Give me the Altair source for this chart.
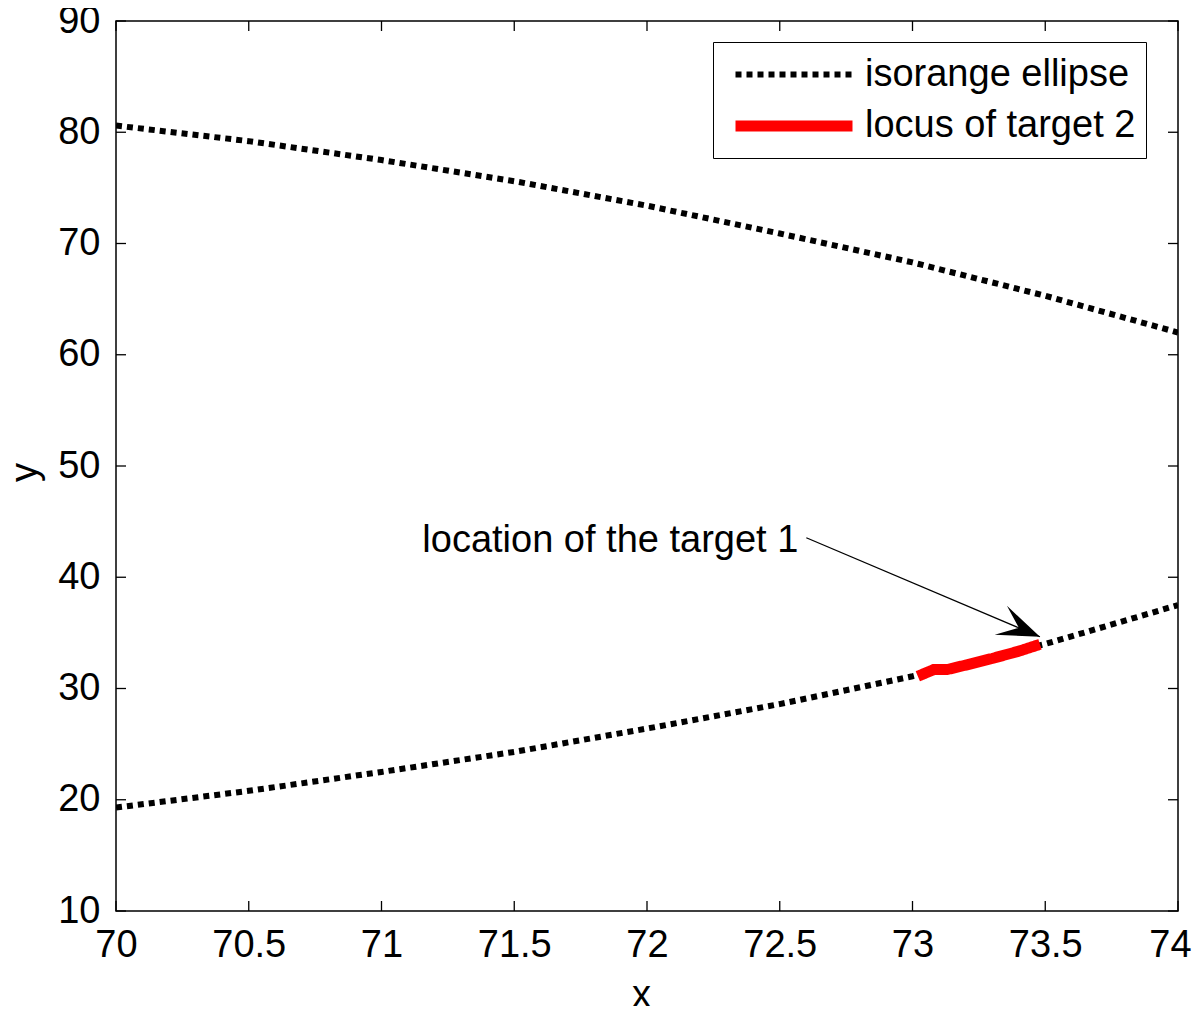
import math
import altair as alt
import pandas as pd

# ---------------- data ----------------
x_ticks = [70, 70.5, 71, 71.5, 72, 72.5, 73, 73.5, 74]
y_ticks = [10, 20, 30, 40, 50, 60, 70, 80, 90]

ellipse_x = [70, 70.5, 71, 71.5, 72, 72.5, 73, 73.5, 74]
upper_y = [80.6, 79.2, 77.5, 75.6, 73.4, 70.9, 68.3, 65.3, 62.0]
lower_y = [19.3, 20.8, 22.5, 24.3, 26.4, 28.6, 31.1, 34.0, 37.5]

locus_x = [73.02, 73.08, 73.13, 73.2, 73.3, 73.4, 73.48]
locus_y = [31.1, 31.7, 31.7, 32.1, 32.7, 33.35, 33.97]

series_names = ["isorange ellipse", "locus of target 2"]
series_colors = ["#000000", "#ff0000"]

arrow_x = [72.60, 73.48]
arrow_y = [43.55, 34.65]
label_text = "location of the target 1"
label_x = 72.57
label_y = 43.3

x_domain = [70, 74]
y_domain = [10, 90]

# ---------------- layout / style ----------------
W, H = 1062, 890
FONT = "Liberation Sans"
FS = 38
TICK = 10

rows = []
for part, ys in (("upper", upper_y), ("lower", lower_y)):
    for i, (xv, yv) in enumerate(zip(ellipse_x, ys)):
        rows.append({"x": xv, "y": yv, "series": series_names[0], "part": part, "i": i})
for i, (xv, yv) in enumerate(zip(locus_x, locus_y)):
    rows.append({"x": xv, "y": yv, "series": series_names[1], "part": "locus", "i": i})
lines_df = pd.DataFrame(rows)

xs = alt.Scale(domain=x_domain, nice=False, zero=False)
ys_ = alt.Scale(domain=y_domain, nice=False, zero=False)

last_x = x_ticks[-1]
x_axis = alt.Axis(
    values=x_ticks, labelExpr="'' + datum.value", title="x",
    labelPadding=15, titlePadding=12, titleX=525,
    labelFlush=False, labelOverlap=False,
    labelOffset={"condition": {"test": f"datum.value == {last_x}", "value": -8}, "value": 0},
)
y_axis = alt.Axis(values=y_ticks, labelExpr="'' + datum.value", title="y", labelPadding=16,
                  titlePadding=13, titleY=451, labelFlush=False, labelOverlap=False)


def X(field="x"):
    return alt.X(f"{field}:Q", scale=xs, axis=x_axis, title="x")


def Y(field="y"):
    return alt.Y(f"{field}:Q", scale=ys_, axis=y_axis, title="y")


# legend: a long stroke symbol drawn by a custom path, so that the row height stays small
SYM = 39  # nominal symbol box (px)
legend = alt.Legend(
    title=None, orient="none", legendX=597, legendY=21,
    strokeColor="black", fillColor="white", padding=10,
    symbolType="M-3,0L3,0", symbolSize=SYM * SYM, symbolOffset=46,
    labelFontSize=FS, labelFont=FONT, labelColor="black", labelOffset=46,
    labelExpr="datum.label + '    '",
    rowPadding=7, labelLimit=400,
)

lines = alt.Chart(lines_df).mark_line(strokeCap="butt", clip=True).encode(
    x=X(), y=Y(),
    detail="part:N",
    order="i:Q",
    color=alt.Color("series:N", scale=alt.Scale(domain=series_names, range=series_colors), legend=legend),
    strokeDash=alt.StrokeDash("series:N", scale=alt.Scale(domain=series_names, range=[[6, 5], [1, 0]]), legend=legend),
    strokeWidth=alt.StrokeWidth("series:N", scale=alt.Scale(type="point", padding=0, domain=series_names, range=[6, 11]), legend=legend),
)

# inward ticks on all four sides (MATLAB box style)
xt = pd.DataFrame({"x": x_ticks})
yt = pd.DataFrame({"y": y_ticks})
tick_style = dict(color="black", strokeWidth=1.3)
bottom_ticks = alt.Chart(xt).mark_rule(**tick_style).encode(
    x=X(), y=alt.value(H), y2=alt.value(H - TICK))
top_ticks = alt.Chart(xt).mark_rule(**tick_style).encode(
    x=X(), y=alt.value(0), y2=alt.value(TICK))
left_ticks = alt.Chart(yt).mark_rule(**tick_style).encode(
    y=Y(), x=alt.value(0), x2=alt.value(TICK))
right_ticks = alt.Chart(yt).mark_rule(**tick_style).encode(
    y=Y(), x=alt.value(W), x2=alt.value(W - TICK))

# annotation: text + arrow
arrow_df = pd.DataFrame({"x": [arrow_x[0]], "y": [arrow_y[0]], "x2": [arrow_x[1]], "y2": [arrow_y[1]]})
arrow_line = alt.Chart(arrow_df).mark_rule(color="black", strokeWidth=1.3).encode(
    x=X(), y=Y(), x2="x2:Q", y2="y2:Q")

dx_px = (arrow_x[1] - arrow_x[0]) * W / (x_domain[1] - x_domain[0])
dy_px = (arrow_y[0] - arrow_y[1]) * H / (y_domain[1] - y_domain[0])
angle = math.degrees(math.atan2(dy_px, dx_px)) % 360

head_df = pd.DataFrame({"x": [arrow_x[1]], "y": [arrow_y[1]]})
head_path = "M0,0 L-1.95,-0.72 L-1.05,0 L-1.95,0.72 Z"
arrow_head = alt.Chart(head_df).mark_point(
    shape=head_path, filled=True, size=1900, angle=angle, color="black", opacity=1, strokeWidth=0
).encode(x=X(), y=Y())

text_df = pd.DataFrame({"x": [label_x], "y": [label_y], "t": [label_text]})
label = alt.Chart(text_df).mark_text(
    align="right", baseline="middle", fontSize=FS, font=FONT, color="black"
).encode(x=X(), y=Y(), text="t:N")

chart = alt.layer(
    lines, bottom_ticks, top_ticks, left_ticks, right_ticks, arrow_line, arrow_head, label
).properties(
    width=W, height=H,
    autosize=alt.AutoSizeParams(type="none"),
    padding={"left": 108, "top": 13, "right": 14, "bottom": 95},
    background="white",
).configure_view(
    stroke="black", strokeWidth=1.5
).configure_axis(
    grid=False, ticks=False, domain=False,
    labelFont=FONT, titleFont=FONT, labelFontSize=FS, titleFontSize=FS,
    labelColor="black", titleColor="black", titleFontWeight="normal",
)

chart.save("out.html", embed_options={"renderer": "svg", "actions": False})
